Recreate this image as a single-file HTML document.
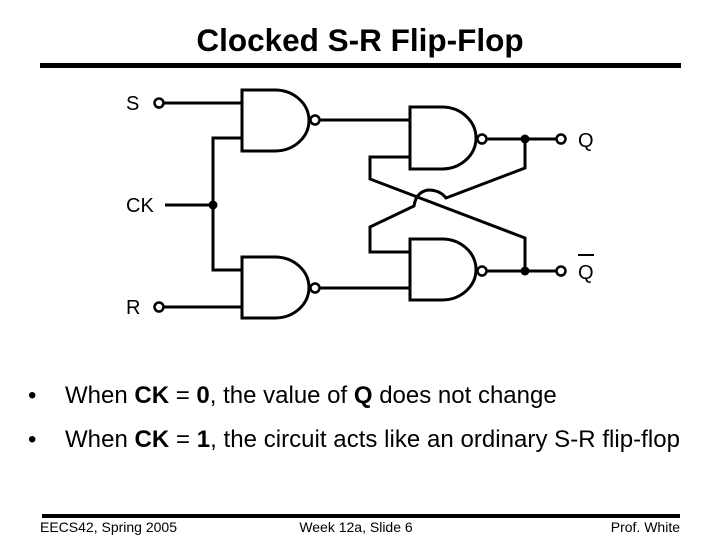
<!DOCTYPE html>
<html><head><style>
body{margin:0;width:720px;height:540px;background:#fff;overflow:hidden;font-family:"Liberation Sans",sans-serif;}
</style></head><body>
<svg width="720" height="540" xmlns="http://www.w3.org/2000/svg" style="position:absolute;left:0;top:0">
<text x="360" y="51" text-anchor="middle" font-family="Liberation Sans" font-weight="bold" font-size="31.5">Clocked S-R Flip-Flop</text>
<rect x="40" y="63" width="641" height="5" fill="#000"/>
<g stroke="#000" stroke-width="3" fill="none">
<path d="M242,90 H275 A34,30.5 0 0 1 275,151 H242 Z"/>
<path d="M242,257 H275 A34,30.5 0 0 1 275,318 H242 Z"/>
<path d="M410,107 H442 A34,31 0 0 1 442,169 H410 Z"/>
<path d="M410,239 H442 A34,30.5 0 0 1 442,300 H410 Z"/>
<circle cx="315" cy="120" r="4.5" stroke-width="2.5"/>
<circle cx="315" cy="288" r="4.5" stroke-width="2.5"/>
<circle cx="482" cy="139" r="4.5" stroke-width="2.5"/>
<circle cx="482" cy="271" r="4.5" stroke-width="2.5"/>
<circle cx="159" cy="103" r="4.5" stroke-width="2.5"/>
<circle cx="159" cy="307" r="4.5" stroke-width="2.5"/>
<circle cx="561" cy="139" r="4.5" stroke-width="2.5"/>
<circle cx="561" cy="271" r="4.5" stroke-width="2.5"/>
<path d="M164,103 H242"/>
<path d="M164,307 H242"/>
<path d="M165,205 H213"/>
<path d="M242,138 H213 V270 H242"/>
<path d="M320,120 H410"/>
<path d="M320,288 H410"/>
<path d="M487,139 H556"/>
<path d="M487,271 H556"/>
<path d="M525,139 V168 L446,198 Q440,190 428,190 Q416,192 414,206 L370,227 V252 H410"/>
<path d="M410,157 H370 V179 L525,238 V271"/>
</g>
<circle cx="213" cy="205" r="4.5" fill="#000"/>
<circle cx="525" cy="139" r="4.5" fill="#000"/>
<circle cx="525" cy="271" r="4.5" fill="#000"/>
<g font-family="Liberation Sans" font-size="20">
<text x="126" y="110">S</text>
<text x="126" y="212">CK</text>
<text x="126" y="314">R</text>
<text x="578" y="147">Q</text>
<text x="578" y="279">Q</text>
</g>
<rect x="578" y="254" width="16" height="2" fill="#000"/>
<g font-family="Liberation Sans" font-size="24">
<text x="28" y="403">•</text>
<text x="65" y="403">When <tspan font-weight="bold">CK</tspan> = <tspan font-weight="bold">0</tspan>, the value of <tspan font-weight="bold">Q</tspan> does not change</text>
<text x="28" y="447">•</text>
<text x="65" y="447" textLength="615">When <tspan font-weight="bold">CK</tspan> = <tspan font-weight="bold">1</tspan>, the circuit acts like an ordinary S-R flip-flop</text>
</g>
<rect x="42" y="514" width="638" height="4" fill="#000"/>
<g font-family="Liberation Sans" font-size="14">
<text x="40" y="532">EECS42, Spring 2005</text>
<text x="356" y="532" text-anchor="middle">Week 12a, Slide 6</text>
<text x="680" y="532" text-anchor="end">Prof. White</text>
</g>
</svg>
</body></html>
